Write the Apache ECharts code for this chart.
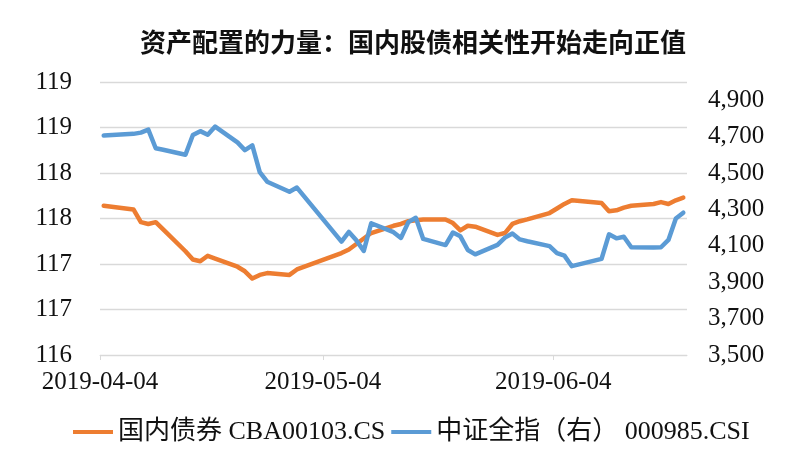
<!DOCTYPE html>
<html>
<head>
<meta charset="utf-8">
<script src="https://cdn.jsdelivr.net/npm/echarts@6/dist/echarts.min.js"></script>
<style>html,body{margin:0;padding:0;background:#fff;}#c{width:800px;height:457px;}</style>
</head>
<body>
<div id="c"></div>
<script>
const dates = ['2019-04-04','2019-04-08','2019-04-09','2019-04-10','2019-04-11','2019-04-12',
'2019-04-15','2019-04-16','2019-04-17','2019-04-18','2019-04-19',
'2019-04-22','2019-04-23','2019-04-24','2019-04-25','2019-04-26',
'2019-04-29','2019-04-30',
'2019-05-06','2019-05-07','2019-05-08','2019-05-09','2019-05-10',
'2019-05-13','2019-05-14','2019-05-15','2019-05-16','2019-05-17',
'2019-05-20','2019-05-21','2019-05-22','2019-05-23','2019-05-24',
'2019-05-27','2019-05-28','2019-05-29','2019-05-30','2019-05-31',
'2019-06-03','2019-06-04','2019-06-05','2019-06-06',
'2019-06-10','2019-06-11','2019-06-12','2019-06-13','2019-06-14',
'2019-06-17','2019-06-18','2019-06-19','2019-06-20','2019-06-21'];

const bondIndex = [117.64,117.60,117.46,117.44,117.46,117.38,
117.14,117.05,117.03,117.09,117.06,
116.97,116.92,116.84,116.88,116.90,
116.88,116.94,
117.12,117.16,117.22,117.28,117.34,
117.42,117.44,117.47,117.48,117.49,
117.49,117.45,117.37,117.42,117.41,
117.32,117.34,117.44,117.47,117.49,
117.56,117.61,117.66,117.70,
117.67,117.58,117.59,117.62,117.64,
117.66,117.68,117.66,117.70,117.73];

const csiAllShare = [4706,4715,4722,4738,4636,4628,
4600,4709,4730,4710,4755,
4668,4626,4652,4505,4452,
4397,4420,
4123,4176,4130,4072,4224,
4175,4143,4230,4254,4138,
4104,4173,4152,4077,4053,
4105,4145,4168,4135,4125,
4098,4060,4046,3988,
4028,4163,4141,4150,4092,
4090,4092,4132,4250,4282];

const xTickDates = ['2019-04-04','2019-05-04','2019-06-04'];
const seriesNames = ['国内债券 CBA00103.CS','中证全指（右） 000985.CSI'];
const titleText = '资产配置的力量：国内股债相关性开始走向正值';

// dates -> day number since 2019-04-04 (UTC based, no timezone issues)
const DAY = 86400000;
const base = Date.UTC(2019, 3, 4);
function dayNum(d) { const p = d.split('-').map(Number); return (Date.UTC(p[0], p[1]-1, p[2]) - base) / DAY; }
function dayLabel(n) {
  const t = new Date(base + Math.round(n) * DAY);
  const mm = String(t.getUTCMonth() + 1).padStart(2, '0');
  const dd = String(t.getUTCDate()).padStart(2, '0');
  return t.getUTCFullYear() + '-' + mm + '-' + dd;
}

const chart = echarts.init(document.getElementById('c'));
const serif = "'Liberation Serif','Noto Sans CJK SC',serif";
const tickVals = xTickDates.map(dayNum);

chart.setOption({
  animation: false,
  backgroundColor: '#fff',
  title: {
    text: titleText, left: 135, top: 24,
    textStyle: { fontFamily: "'Noto Sans CJK SC',sans-serif", fontWeight: 'bold', fontSize: 26, color: '#111' }
  },
  grid: { left: 100, right: 113, top: 82, bottom: 102 },
  legend: {
    bottom: 7, left: 68, icon: 'rect', itemWidth: 40, itemHeight: 4, itemGap: 6,
    textStyle: { fontFamily: serif, fontSize: 26, color: '#111' },
    data: seriesNames
  },
  xAxis: {
    type: 'value',
    min: 0, max: dayNum('2019-06-22'),
    axisLine: { show: true, lineStyle: { color: '#D9D9D9', width: 1 } },
    axisTick: { show: true, customValues: tickVals, length: 5, lineStyle: { color: '#D9D9D9' } },
    axisLabel: {
      customValues: tickVals, margin: 15, fontFamily: serif, fontSize: 25, color: '#111',
      formatter: v => dayLabel(v)
    },
    splitLine: { show: false }
  },
  yAxis: [{
    type: 'value', min: 116, max: 119, interval: 0.5,
    axisLine: { show: false }, axisTick: { show: false },
    axisLabel: { margin: 28, fontFamily: serif, fontSize: 25, color: '#111', formatter: v => String(Math.round(v)) },
    splitLine: { show: true, lineStyle: { color: '#D9D9D9', width: 1.3 } }
  }, {
    type: 'value', min: 3500, max: 5000, interval: 200,
    axisLine: { show: false }, axisTick: { show: false },
    axisLabel: { margin: 21, showMaxLabel: false, fontFamily: serif, fontSize: 25, color: '#111',
      formatter: v => v >= 5000 ? '' : v.toLocaleString('en-US') },
    splitLine: { show: false }
  }],
  series: [{
    name: seriesNames[0], type: 'line', yAxisIndex: 0, showSymbol: false, symbol: 'none',
    itemStyle: { color: '#ED7D31' },
    lineStyle: { color: '#ED7D31', width: 4.5, cap: 'round', join: 'round' },
    data: dates.map((d, i) => [dayNum(d) + 0.5, bondIndex[i]])
  }, {
    name: seriesNames[1], type: 'line', yAxisIndex: 1, showSymbol: false, symbol: 'none',
    itemStyle: { color: '#5B9BD5' },
    lineStyle: { color: '#5B9BD5', width: 4.5, cap: 'round', join: 'round' },
    data: dates.map((d, i) => [dayNum(d) + 0.5, csiAllShare[i]])
  }]
});
</script>
</body>
</html>
